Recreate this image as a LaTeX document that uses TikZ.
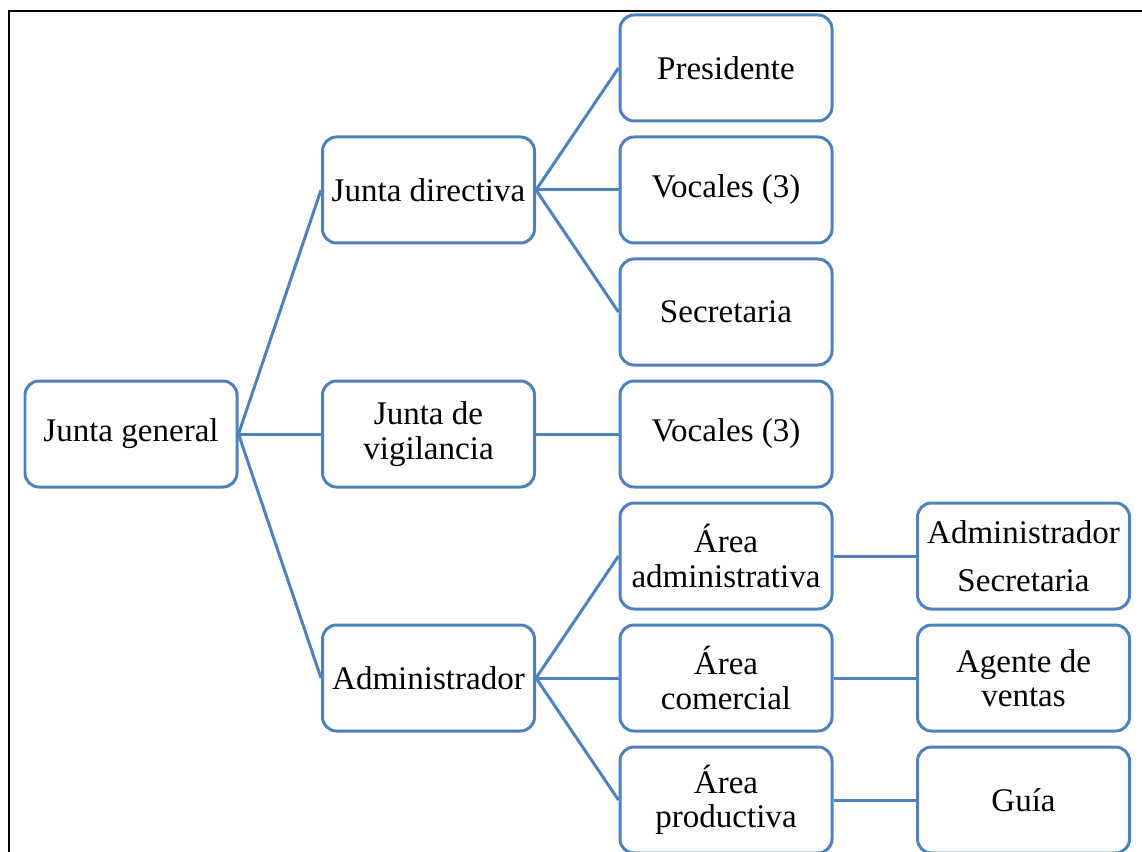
\documentclass[tikz,border=0pt]{standalone}
\usepackage{fontspec}
\setmainfont{Liberation Serif}
\usepackage{xcolor}
\usepackage{tikz}
\usetikzlibrary{positioning}
\definecolor{orgblue}{RGB}{79,129,189}

\begin{document}
\begin{tikzpicture}[thick,
    orgbox/.style={draw=orgblue, line width=0.06cm, rounded corners=0.28cm, fill=white,
        minimum width=4.24cm, minimum height=2.12cm, inner sep=2pt, align=center,
        font=\fontsize{18.8}{19.6}\selectfont},
    orglink/.style={draw=orgblue, line width=0.06cm}]
    \useasboundingbox (0,0) rectangle (22.84,-17.04);
    \clip (0,0) rectangle (22.84,-17.04);

    % frame
    \draw [line width=0.04cm] (0.18,-18) -- (0.18,-0.22) -- (24,-0.22);

    \node [orgbox] (jg) at (2.62,-8.68) {Junta general};

    \node [orgbox] (jd) at (8.57,-3.80) {Junta directiva};
    \node [orgbox] (jv) at (8.57,-8.68) {Junta de\\vigilancia};
    \node [orgbox] (adm) at (8.57,-13.56) {Administrador};

    \node [orgbox] (pres) at (14.52,-1.36) {Presidente};
    \node [orgbox] (voc) at (14.52,-3.80) {Vocales (3)};
    \node [orgbox] (sec) at (14.52,-6.24) {Secretaria};
    \node [orgbox] (vocv) at (14.52,-8.68) {Vocales (3)};
    \node [orgbox] (aadm) at (14.52,-11.12) {Área\\administrativa};
    \node [orgbox] (acom) at (14.52,-13.56) {Área\\comercial};
    \node [orgbox] (aprod) at (14.52,-16.00) {Área\\productiva};

    \node [orgbox] (admsec) at (20.47,-11.12) {Administrador\\[8pt]Secretaria};
    \node [orgbox] (agente) at (20.47,-13.56) {Agente de\\ventas};
    \node [orgbox] (guia) at (20.47,-16.00) {Guía};

    \draw [orglink] (jg.east) -- (jd.west);
    \draw [orglink] (jg.east) -- (jv.west);
    \draw [orglink] (jg.east) -- (adm.west);

    \draw [orglink] (jd.east) -- (pres.west);
    \draw [orglink] (jd.east) -- (voc.west);
    \draw [orglink] (jd.east) -- (sec.west);
    \draw [orglink] (jv.east) -- (vocv.west);
    \draw [orglink] (adm.east) -- (aadm.west);
    \draw [orglink] (adm.east) -- (acom.west);
    \draw [orglink] (adm.east) -- (aprod.west);

    \draw [orglink] (aadm.east) -- (admsec.west);
    \draw [orglink] (acom.east) -- (agente.west);
    \draw [orglink] (aprod.east) -- (guia.west);
\end{tikzpicture}
\end{document}
